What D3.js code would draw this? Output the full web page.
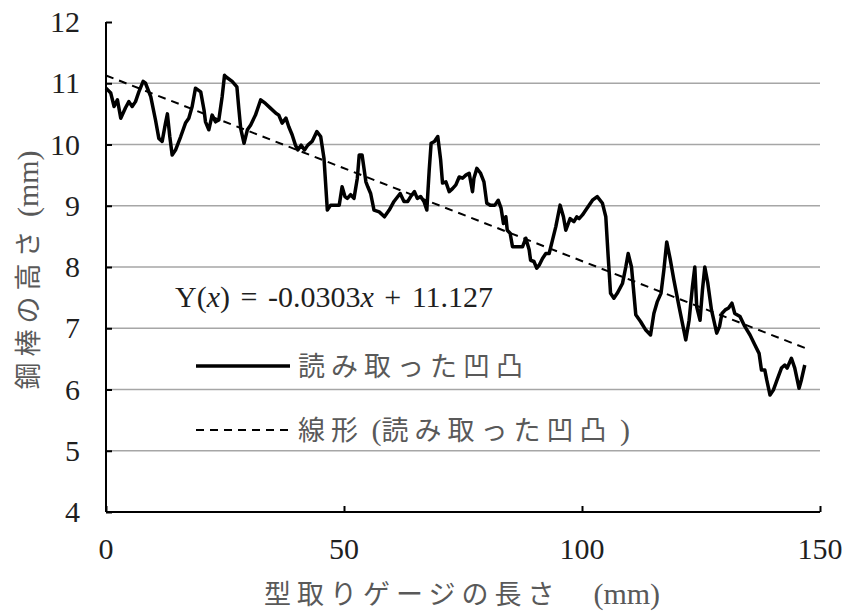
<!DOCTYPE html>
<html>
<head>
<meta charset="utf-8">
<script src="https://cdn.jsdelivr.net/npm/d3@7/dist/d3.min.js"></script>
<style>
  html, body { margin: 0; padding: 0; background: #fff; }
  svg { display: block; }
</style>
</head>
<body>
<svg id="chart" width="848" height="616"></svg>
<script>
// Measured profile: gauge position (mm) and rod height (mm)
const gaugeLength = [
  0.0, 1.0, 1.7, 2.4, 3.1, 4.1, 4.8, 5.5, 6.2, 6.9, 7.8, 8.3, 9.4, 10.4, 11.1, 11.8,
  12.5, 12.9, 13.4, 13.9, 14.6, 15.7, 16.7, 17.4, 18.1, 18.8, 19.9, 20.6, 20.9, 21.6,
  22.3, 23.0, 23.7, 24.4, 24.9, 25.1, 26.5, 27.5, 27.9, 28.3, 29.0, 29.7, 30.4, 31.4,
  32.5, 33.5, 34.6, 35.7, 36.3, 37.0, 37.8, 38.4, 39.1, 39.8, 40.3, 41.0, 41.7, 42.4,
  43.3, 44.3, 45.1, 45.8, 46.5, 47.2, 48.3, 49.0, 49.6, 50.2, 50.7, 51.4, 52.1, 52.8,
  53.2, 53.8, 54.6, 55.0, 55.6, 56.3, 57.4, 58.5, 59.5, 60.5, 61.8, 62.6, 63.4, 64.1,
  64.8, 65.4, 66.1, 66.8, 67.4, 67.9, 68.3, 69.0, 69.7, 70.3, 70.7, 71.4, 72.1, 72.8,
  73.5, 74.2, 74.9, 75.6, 76.3, 77.0, 77.3, 77.9, 78.7, 79.4, 80.0, 80.7, 81.7, 82.4,
  83.0, 83.5, 84.0, 84.3, 84.9, 85.4, 86.4, 87.5, 88.2, 88.9, 89.2, 89.9, 90.5, 91.0,
  91.7, 92.4, 93.1, 93.8, 94.5, 95.4, 96.1, 96.6, 97.5, 98.3, 98.9, 99.4, 100.1, 100.8,
  102.2, 103.2, 104.3, 105.0, 105.5, 106.0, 106.7, 107.4, 108.5, 109.2, 109.7, 110.4,
  111.3, 112.3, 113.4, 114.4, 115.1, 115.8, 116.6, 117.2, 117.8, 118.5, 119.3, 120.4,
  121.1, 121.8, 122.5, 123.2, 123.7, 124.1, 124.8, 125.3, 125.8, 126.4, 127.2, 128.3,
  128.9, 129.4, 130.1, 130.8, 131.5, 132.1, 133.2, 134.2, 135.3, 136.3, 137.2, 137.7,
  138.4, 138.8, 139.5, 140.2, 141.0, 141.9, 142.6, 143.1, 144.0, 144.7, 145.6, 146.1,
  146.8
];
const rodHeight = [
  10.92, 10.84, 10.62, 10.73, 10.43, 10.60, 10.70, 10.62, 10.70, 10.86, 11.03, 11.00, 10.78, 10.40, 10.10, 10.05,
  10.35, 10.50, 10.13, 9.83, 9.91, 10.13, 10.35, 10.43, 10.62, 10.92, 10.86, 10.56, 10.37, 10.24,
  10.48, 10.37, 10.40, 10.78, 11.13, 11.11, 11.03, 10.94, 10.59, 10.26, 10.02, 10.24, 10.32, 10.48,
  10.73, 10.67, 10.59, 10.51, 10.48, 10.35, 10.43, 10.29, 10.16, 9.99, 9.91, 9.99, 9.91, 9.99,
  10.05, 10.21, 10.13, 9.77, 8.93, 9.01, 9.01, 9.01, 9.31, 9.15, 9.12, 9.18, 9.12, 9.45,
  9.83, 9.83, 9.39, 9.31, 9.20, 8.93, 8.90, 8.82, 8.93, 9.07, 9.20, 9.07, 9.07, 9.16,
  9.23, 9.12, 9.15, 9.07, 8.93, 9.58, 10.02, 10.05, 10.13, 9.75, 9.37, 9.39, 9.23, 9.28,
  9.34, 9.47, 9.45, 9.50, 9.53, 9.23, 9.45, 9.61, 9.53, 9.39, 9.04, 9.01, 9.01, 9.09,
  8.96, 8.71, 8.82, 8.60, 8.55, 8.33, 8.33, 8.33, 8.47, 8.28, 8.11, 8.09, 7.98, 8.03,
  8.14, 8.22, 8.22, 8.44, 8.66, 9.01, 8.82, 8.60, 8.79, 8.74, 8.82, 8.79, 8.85, 8.93,
  9.09, 9.15, 9.04, 8.82, 8.17, 7.57, 7.49, 7.57, 7.73, 8.00, 8.22, 8.00,
  7.22, 7.11, 6.97, 6.89, 7.24, 7.43, 7.57, 7.95, 8.41, 8.14, 7.79, 7.35,
  7.08, 6.81, 7.13, 7.68, 8.00, 7.35, 7.13, 7.62, 8.00, 7.75, 7.30, 6.92,
  7.03, 7.24, 7.30, 7.33, 7.41, 7.24, 7.19, 7.03, 6.89, 6.73, 6.59, 6.32,
  6.32, 6.16, 5.91, 5.99, 6.16, 6.35, 6.40, 6.35, 6.51, 6.35, 6.02, 6.16,
  6.40
];

// Linear fit of the profile
const trendSlope = -0.0303;
const trendIntercept = 11.127;

// Axis ticks
const xTicks = [0, 50, 100, 150];
const yTicks = [4, 5, 6, 7, 8, 9, 10, 11, 12];

const serif = "'Liberation Serif', 'Times New Roman', serif";
const cjk = "'Noto Sans CJK JP', 'Noto Sans', sans-serif";
const inkText = "#1f1f1f";
const grayText = "#595959";
const serifSize = 30;
const cjkSize = 27;
const cjkSpacing = 6;

const svg = d3.select("#chart");

const x = d3.scaleLinear().domain([0, 150]).range([106, 820]);
const y = d3.scaleLinear().domain([4, 12]).range([512, 22]);

// Horizontal gridlines
svg.append("g")
  .selectAll("line")
  .data(yTicks.filter(t => t > 4 && t < 12))
  .join("line")
  .attr("x1", x(0)).attr("x2", x(150))
  .attr("y1", d => y(d)).attr("y2", d => y(d))
  .attr("stroke", "#a6a6a6")
  .attr("stroke-width", 1.5);

// Y axis: line with inward ticks
const yAxis = d3.axisRight(y).tickValues(yTicks).tickSize(6).tickFormat("");
const gy = svg.append("g").attr("transform", `translate(${x(0)},0)`).call(yAxis);
gy.select(".domain").attr("stroke", "#000").attr("stroke-width", 2).attr("d", `M0,${y(12)}V${y(4)}`);
gy.selectAll(".tick line").attr("stroke", "#000").attr("stroke-width", 2);

// X axis: line with upward ticks
const xAxis = d3.axisTop(x).tickValues(xTicks).tickSize(6).tickFormat("");
const gx = svg.append("g").attr("transform", `translate(0,${y(4)})`).call(xAxis);
gx.select(".domain").attr("stroke", "#000").attr("stroke-width", 2).attr("d", `M${x(0)},0H${x(150)}`);
gx.selectAll(".tick line").attr("stroke", "#000").attr("stroke-width", 2);

// Tick labels
svg.append("g")
  .selectAll("text")
  .data(yTicks)
  .join("text")
  .attr("x", 80)
  .attr("y", d => y(d))
  .attr("dy", "0.34em")
  .attr("text-anchor", "end")
  .attr("font-family", serif)
  .attr("font-size", serifSize)
  .attr("fill", inkText)
  .text(d => d);

svg.append("g")
  .selectAll("text")
  .data(xTicks)
  .join("text")
  .attr("x", d => x(d))
  .attr("y", 559)
  .attr("text-anchor", "middle")
  .attr("font-family", serif)
  .attr("font-size", serifSize)
  .attr("fill", inkText)
  .text(d => d);

// Append a run of text in the given font to a <text> element
function run(parent, text, family, opts = {}) {
  const t = parent.append("tspan")
    .attr("font-family", family)
    .attr("font-size", family === cjk ? cjkSize : serifSize)
    .text(text);
  if (family === cjk) t.attr("letter-spacing", cjkSpacing);
  if (opts.italic) t.attr("font-style", "italic");
  return t;
}

// Axis titles
const yTitle = svg.append("text")
  .attr("transform", "translate(38,270) rotate(-90)")
  .attr("text-anchor", "middle")
  .attr("fill", grayText);
run(yTitle, "鋼棒の高さ", cjk);
run(yTitle, " (mm)", serif);

const xTitle = svg.append("text")
  .attr("x", 462)
  .attr("y", 604)
  .attr("text-anchor", "middle")
  .attr("fill", grayText);
run(xTitle, "型取りゲージの長さ　", cjk);
run(xTitle, "(mm)", serif);

// Profile line
const profile = gaugeLength.map((g, i) => [g, rodHeight[i]]);
const line = d3.line().x(d => x(d[0])).y(d => y(d[1]));

svg.append("path")
  .datum(profile)
  .attr("d", line)
  .attr("fill", "none")
  .attr("stroke", "#000")
  .attr("stroke-width", 3.5)
  .attr("stroke-linejoin", "round");

// Trend line
const xEnd = gaugeLength[gaugeLength.length - 1];
const trend = [0, xEnd].map(g => [g, trendSlope * g + trendIntercept]);
svg.append("path")
  .datum(trend)
  .attr("d", line)
  .attr("fill", "none")
  .attr("stroke", "#000")
  .attr("stroke-width", 2)
  .attr("stroke-dasharray", "8,6");

// Regression equation
const eq = svg.append("text")
  .attr("x", 175)
  .attr("y", 307)
  .attr("word-spacing", 3)
  .attr("fill", inkText);
run(eq, "Y(", serif);
run(eq, "x", serif, { italic: true });
run(eq, ") = -0.0303", serif);
run(eq, "x", serif, { italic: true });
run(eq, " + 11.127", serif);

// Legend
const legend = svg.append("g");
legend.append("line")
  .attr("x1", 196).attr("x2", 290).attr("y1", 366).attr("y2", 366)
  .attr("stroke", "#000").attr("stroke-width", 3.5);
const l1 = legend.append("text").attr("x", 298).attr("y", 376).attr("fill", grayText);
run(l1, "読み取った凹凸", cjk);

legend.append("line")
  .attr("x1", 196).attr("x2", 290).attr("y1", 430).attr("y2", 430)
  .attr("stroke", "#000").attr("stroke-width", 2).attr("stroke-dasharray", "8,6");
const l2 = legend.append("text").attr("x", 298).attr("y", 440).attr("fill", grayText);
run(l2, "線形", cjk);
run(l2, " (", serif);
run(l2, "読み取った凹凸", cjk);
run(l2, " )", serif);
</script>
</body>
</html>
